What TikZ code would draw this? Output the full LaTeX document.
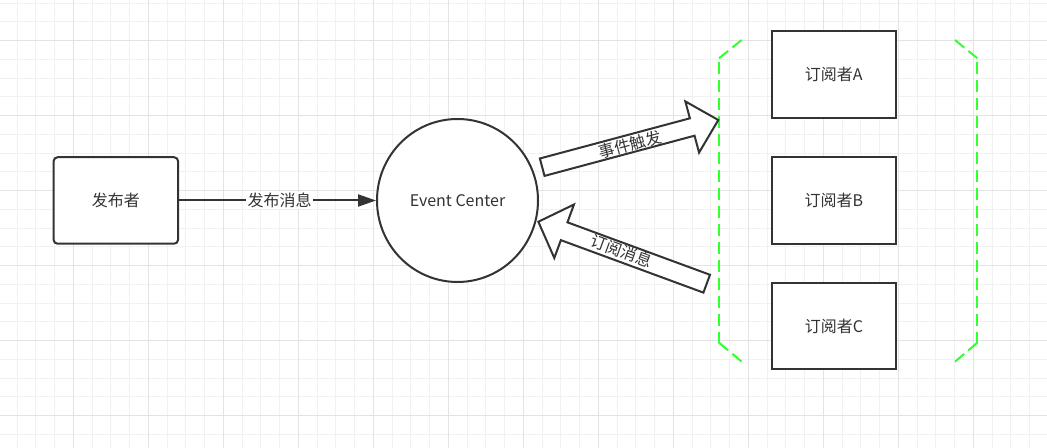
\documentclass[tikz,border=0pt]{standalone}
\usepackage{fontspec}
\setmainfont{Noto Sans CJK SC}
\usetikzlibrary{arrows.meta,shapes.geometric}
\definecolor{ink}{HTML}{333333}
\definecolor{gridminor}{HTML}{F1F1F1}
\definecolor{gridmajor}{HTML}{E3E3E3}
\definecolor{grn}{HTML}{33FF33}
\begin{document}
\begin{tikzpicture}[x=0.75pt,y=-0.75pt,
  every node/.style={text=ink, font=\fontsize{12pt}{14pt}\selectfont},
  box/.style={draw=ink, line width=1.5pt, fill=white, minimum width=124.5*0.75pt, minimum height=86.5*0.75pt, inner sep=0pt},
  circ/.style={draw=ink, line width=1.5pt, fill=white, ellipse, minimum width=161*0.75pt, minimum height=163*0.75pt, inner sep=0pt},
  bigarrow/.style={draw=ink, line width=1.5pt, fill=white, line join=miter},
  brdiag/.style={draw=grn, line width=1.5pt, dash pattern=on 9pt off 4pt},
  brvert/.style={draw=grn, line width=1.5pt, dash pattern=on 9pt off 4.5pt},
  conn/.style={draw=ink, line width=1.5pt, -{Triangle[length=13.5pt,width=9pt]}},
  lbl/.style={inner sep=0pt}]
\useasboundingbox (0,0) rectangle (1047,448);
\fill[white] (0,0) rectangle (1047,448);
% grid
\foreach \k in {0,...,56} \draw[gridminor, line width=0.75pt] ({-1.7+18.75*\k},0) -- ++(0,448);
\foreach \k in {0,...,23} \draw[gridminor, line width=0.75pt] (0,{3.2+18.75*\k}) -- ++(1047,0);
\foreach \k in {0,...,14} \draw[gridmajor, line width=0.75pt] ({-1.7+75*\k},0) -- ++(0,448);
\foreach \k in {1,...,6} \draw[gridmajor, line width=0.75pt] (0,{-34.3+75*\k}) -- ++(1047,0);

% nodes
\node[box, rounded corners=3pt] (pub) at (115.85,200.5) {发布者};
\node[circ] (ec) at (457.5,200.5) {Event Center};
\node[box] (subA) at (833.85,74.7) {订阅者A};
\node[box] (subB) at (833.85,200.5) {订阅者B};
\node[box] (subC) at (833.85,326.2) {订阅者C};

% publish connector
\draw[conn] (pub.east) -- node[fill=white, inner sep=1pt, pos=0.51] (lblpub) {发布消息} (ec.west);

% subscriber group bracket
\coordinate (bl1) at (741.7,40);   \coordinate (bl2) at (719,58.3);
\coordinate (bl3) at (719,342.7);  \coordinate (bl4) at (741.7,361.7);
\coordinate (br1) at (955,40);     \coordinate (br2) at (977.3,58.3);
\coordinate (br3) at (977.3,342.7);\coordinate (br4) at (955,361.7);
\draw[brdiag] (bl1) -- (bl2);
\draw[brvert] (719,62) -- (bl3);
\draw[brdiag] (bl3) -- (bl4);
\draw[brdiag] (br1) -- (br2);
\draw[brvert] (977.3,62) -- (br3);
\draw[brdiag] (br3) -- (br4);

% big arrows
\begin{scope}[shift={(542.2,167.2)}, rotate=15]
\draw[bigarrow] (0,-9) -- (155.3,-9) -- (155.3,-26.5) -- (182.3,0) -- (155.3,26.5) -- (155.3,9) -- (0,9) -- cycle;
\end{scope}
\node[lbl, rotate=15] (lblfire) at (630.3,144.8) {事件触发};

\begin{scope}[shift={(706.7,283.7)}, rotate=159.8]
\draw[bigarrow] (0,-9.5) -- (151.9,-9.5) -- (151.9,-28.5) -- (179.4,0) -- (151.9,28.5) -- (151.9,9.5) -- (0,9.5) -- cycle;
\end{scope}
\node[lbl, rotate=-20.2] (lblsub) at (622,251) {订阅消息};
\end{tikzpicture}
\end{document}
